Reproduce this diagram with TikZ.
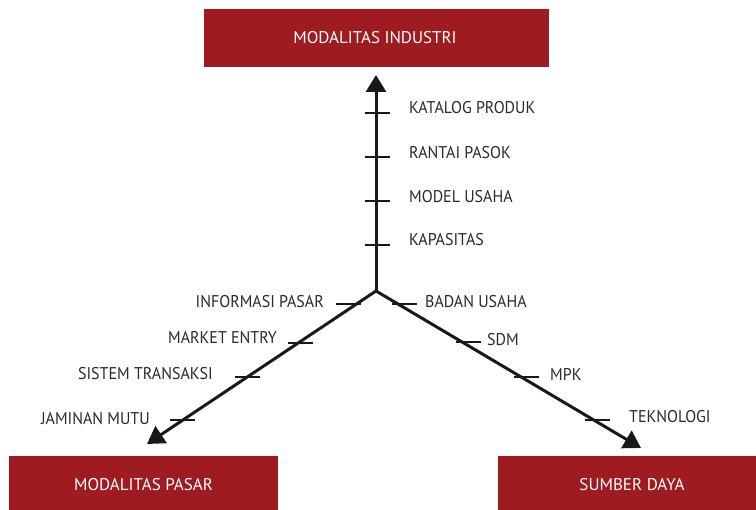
\documentclass[tikz,border=0pt]{standalone}
\usepackage{fontspec}
\setmainfont{PT Sans}[FakeStretch=0.94]
\newfontfamily\boxfont{PT Sans}
\usetikzlibrary{arrows.meta}
\definecolor{boxred}{HTML}{9E1B22}
\definecolor{txt}{HTML}{2A2A2A}
\begin{document}
\begin{tikzpicture}[x=1pt,y=-1pt,
  box/.style={fill=boxred,draw=none,text=white,font=\boxfont\fontsize{17}{20}\selectfont,inner sep=0pt},
  lab/.style={text=txt,font=\fontsize{17}{20}\selectfont,inner sep=0pt},
  axis/.style={line width=3pt,draw=black!90,-{Triangle[width=20pt,length=17pt]}},
  tick/.style={line width=1.5pt,draw=black!90}]
\useasboundingbox (0,0) rectangle (756,510);
% boxes
\fill[boxred] (204,9) rectangle (549,67);
\node[box] (ind) at (375,38) {MODALITAS INDUSTRI};
\fill[boxred] (9,456) rectangle (278,510);
\node[box] (pas) at (143.5,485) {MODALITAS PASAR};
\fill[boxred] (498,456) rectangle (756,510);
\node[box] (sdy) at (632,485) {SUMBER DAYA};
% centre and tips
\coordinate (c) at (376,291);
\coordinate (tu) at (376,75);
\coordinate (tl) at (147,444);
\coordinate (tr) at (641,448);
\draw[axis] (c) -- (tu);
\draw[axis] (c) -- (tl);
\draw[axis] (c) -- (tr);
% vertical ticks
\foreach \y/\n in {113/v1,157/v2,201/v3,245/v4}{
  \coordinate (\n a) at (365,\y); \coordinate (\n b) at (390,\y);
  \draw[tick] (\n a) -- (\n b);}
\node[lab,anchor=west] (k1) at (409,108) {KATALOG PRODUK};
\node[lab,anchor=west] (k2) at (409,153) {RANTAI PASOK};
\node[lab,anchor=west] (k3) at (409,196.5) {MODEL USAHA};
\node[lab,anchor=west] (k4) at (409,239.5) {KAPASITAS};
% left ticks
\foreach \x/\y/\n in {336/304/l1,288/343/l2,235/377/l3,170/420/l4}{
  \coordinate (\n a) at (\x,\y); \coordinate (\n b) at ({\x+25},\y);
  \draw[tick] (\n a) -- (\n b);}
\node[lab,anchor=east] (p1) at (324,302) {INFORMASI PASAR};
\node[lab,anchor=east] (p2) at (277,338) {MARKET ENTRY};
\node[lab,anchor=east] (p3) at (213,374) {SISTEM TRANSAKSI};
\node[lab,anchor=east] (p4) at (150,419) {JAMINAN MUTU};
% right ticks
\foreach \x/\y/\n in {392/304/r1,456/342/r2,514/377/r3,585/420/r4}{
  \coordinate (\n a) at (\x,\y); \coordinate (\n b) at ({\x+25},\y);
  \draw[tick] (\n a) -- (\n b);}
\node[lab,anchor=west] (s1) at (425,302) {BADAN USAHA};
\node[lab,anchor=west] (s2) at (487,340) {SDM};
\node[lab,anchor=west] (s3) at (550,374) {MPK};
\node[lab,anchor=west] (s4) at (629,417) {TEKNOLOGI};
\end{tikzpicture}
\end{document}
